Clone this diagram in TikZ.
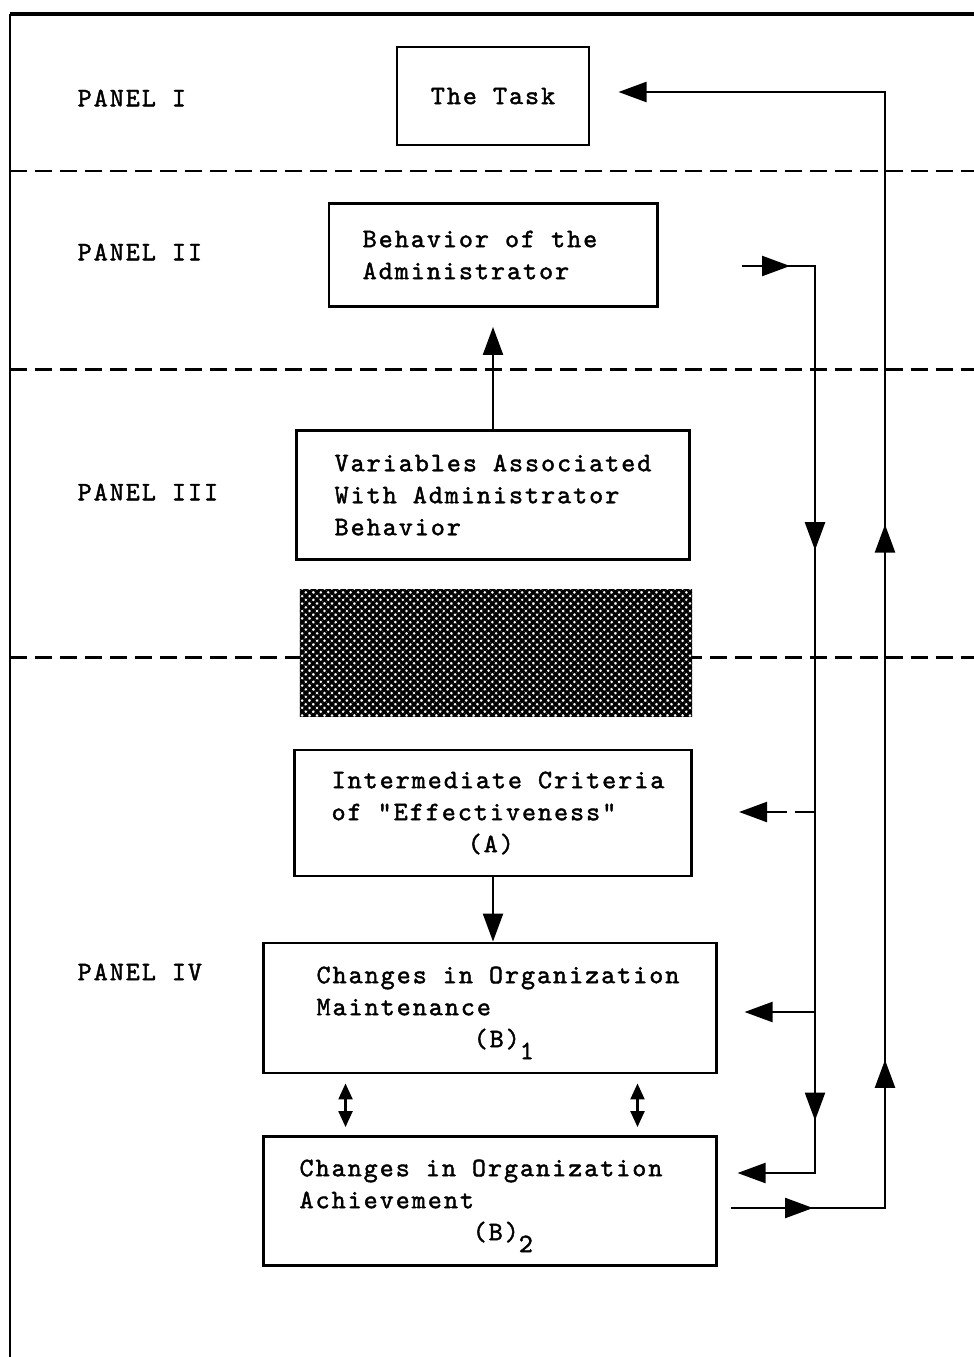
\documentclass[tikz,border=0pt]{standalone}
\usepackage{fontspec}
\newfontfamily\tw{lmmono10-regular.otf}[LetterSpace=7.5,FakeBold=1.6]
\usetikzlibrary{arrows.meta,decorations.markings,patterns.meta}

\tikzset{bigtip/.tip={Triangle[length=0.28cm,width=0.2cm]}}
\tikzset{smalltip/.tip={Triangle[length=0.16cm,width=0.14cm]}}

\begin{document}
\begin{tikzpicture}[
  x=0.01cm, y=-0.01cm,
  typed/.style={font={\tw\fontsize{7.6}{9.1}\selectfont}},
  panel/.style={typed, anchor=west, inner sep=0pt},
  box/.style={draw, line width=0.8pt, typed, align=left, inner sep=0pt},
  divider/.style={line width=0.85pt, dash pattern=on 0.17cm off 0.08cm},
  wire/.style={line width=0.65pt},
  flow/.style={wire, -bigtip},
  both/.style={wire, smalltip-smalltip, shorten <=0.09cm, shorten >=0.08cm},
  midtip/.style={postaction={decorate, decoration={markings,
      mark=at position #1 with {\arrow{bigtip}}}}}
  ]
  \useasboundingbox (0,0) rectangle (974,1357);

  % Frame and panel dividers
  \draw[line width=1.1pt] (10,14) -- (974,14);
  \draw[line width=0.7pt] (10,14) -- (10,1357);
  \draw[divider] (10,171) -- (974,171);
  \draw[divider] (10,369) -- (974,369);
  \draw[divider] (10,657) -- (974,657);

  % Panel labels
  \node[panel] (p1) at (77,98) {PANEL I};
  \node[panel] (p2) at (77,252) {PANEL II};
  \node[panel] (p3) at (77,492) {PANEL III};
  \node[panel] (p4) at (77,972) {PANEL IV};

  % Boxes
  \node[box, minimum width=1.92cm, minimum height=0.98cm] (task) at (493,96) {The Task};
  \node[box, minimum width=3.28cm, minimum height=1.03cm] (beh) at (493,255) {Behavior of the\hspace*{0.26cm}\\Administrator};
  \node[box, minimum width=3.93cm, minimum height=1.29cm] (var) at (493,495) {Variables Associated\\With Administrator\\Behavior};
  \node[minimum width=3.92cm, minimum height=1.26cm, inner sep=0pt,
        preaction={fill=white},
        pattern={Lines[angle=45,distance=1.5pt,line width=0.85pt]},
        postaction={pattern={Lines[angle=-45,distance=1.5pt,line width=0.85pt]}}] (shade) at (496,653) {};
  \node[box, minimum width=3.97cm, minimum height=1.26cm] (int) at (493,813) {\hspace*{0.1cm}Intermediate Criteria\\\hspace*{0.1cm}of "Effectiveness"\\\hspace*{1.46cm}(A)};
  \node[box, minimum width=4.52cm, minimum height=1.30cm] (main) at (490,1008) {\hspace*{0.16cm}Changes in Organization\\\hspace*{0.16cm}Maintenance\\\hspace*{1.73cm}(B)\raisebox{-0.12cm}[0pt][0pt]{1}};
  \node[box, minimum width=4.52cm, minimum height=1.29cm] (ach) at (490,1201) {Changes in Organization\hspace*{0.18cm}\\Achievement\\\hspace*{1.73cm}(B)\raisebox{-0.12cm}[0pt][0pt]{2}};

  % Feedback corners
  \coordinate (achOut) at (731,1208);
  \coordinate (aBot) at (885,1208);
  \coordinate (aTop) at (885,92);
  \coordinate (behOut) at (742,266);
  \coordinate (bTop) at (815,266);
  \coordinate (bBot) at (815,1173);
  \coordinate (bInt) at (815,812);
  \coordinate (bMain) at (815,1012);

  % Connections
  \draw[flow, shorten >=0.19cm] (var.north) -- (var.north |- beh.south);
  \draw[flow] (int.south) -- (int.south |- main.north);
  \draw[both] ([xshift=0.83cm]main.south west) -- ([xshift=0.83cm]ach.north west);
  \draw[both] ([xshift=-0.8cm]main.south east) -- ([xshift=-0.8cm]ach.north east);

  \draw[flow, shorten >=0.28cm, midtip=0.82cm, midtip=3.02cm, midtip=8.37cm]
    (achOut) -- (aBot) -- (aTop) -- (task.east |- aTop);
  \draw[flow, shorten >=0.2cm, midtip=0.48cm, midtip=3.57cm, midtip=9.27cm]
    (behOut) -- (bTop) -- (bBot) -- (ach.east |- bBot);
  \draw[flow, shorten >=0.27cm] (bMain) -- (main.east |- bMain);
  \draw[flow, dash pattern=on 0.2cm off 0.08cm, shorten >=0.46cm] (bInt) -- (int.east |- bInt);

\end{tikzpicture}
\end{document}
